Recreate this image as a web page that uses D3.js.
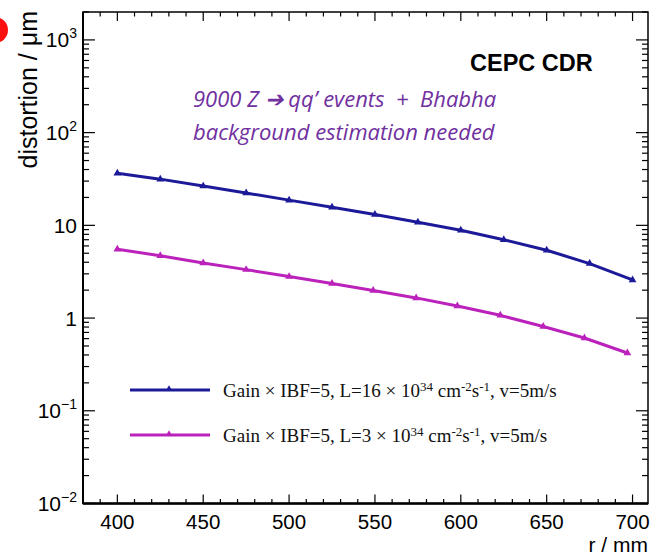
<!DOCTYPE html>
<html>
<head>
<meta charset="utf-8">
<script src="https://cdn.jsdelivr.net/npm/d3@7"></script>
<style>
  html, body { margin: 0; padding: 0; background: #fff; }
  svg { display: block; }
</style>
</head>
<body>
<svg id="chart" width="650" height="556"></svg>
<script>
// Radial position r (mm) of each sample point
const rHigh = [400, 425, 450, 475, 500, 525, 550, 575, 600, 625, 650, 675, 700];
const rLow  = [400, 425, 450, 475, 500, 525, 549, 574, 598, 623, 648, 672, 697];

// Distortion (um) for the two luminosity scenarios
const distHigh = [36.5, 31.5, 26.5, 22.3, 18.7, 15.7, 13.1, 10.8, 8.84, 7.0, 5.39, 3.87, 2.58];
const distLow  = [5.52, 4.71, 3.93, 3.33, 2.80, 2.36, 1.98, 1.65, 1.35, 1.07, 0.81, 0.61, 0.42];

const xTicks = [400, 450, 500, 550, 600, 650, 700];
const yTicks = [0.01, 0.1, 1, 10, 100, 1000];
const yTickLabels = [["10", "\u22122"], ["10", "\u22121"], ["1", null], ["10", null], ["10", "2"], ["10", "3"]];

const seriesNames = ["high", "low"];
const seriesColors = ["#1c1a98", "#bb22bb"];

const svg = d3.select("#chart");
const pL = 83, pR = 648, pT = 12, pB = 503.5;

const x = d3.scaleLinear().domain([380, 709]).range([pL, pR]);
const y = d3.scaleLog().domain([0.01, 2000]).range([pB, pT]);

// red marker at the upper-left corner
svg.append("circle").attr("cx", -5).attr("cy", 30).attr("r", 13).attr("fill", "#ff1010");

// frame
svg.append("rect")
  .attr("x", pL).attr("y", pT)
  .attr("width", pR - pL).attr("height", pB - pT)
  .attr("fill", "none").attr("stroke", "#000").attr("stroke-width", 1.5);
svg.append("line").attr("x1", pL).attr("x2", pR).attr("y1", pB).attr("y2", pB)
  .attr("stroke", "#000").attr("stroke-width", 2.5);
svg.append("line").attr("x1", pL).attr("x2", pL).attr("y1", pT).attr("y2", pB)
  .attr("stroke", "#000").attr("stroke-width", 2);

const tickG = svg.append("g").attr("stroke", "#000").attr("stroke-width", 1.2);

// x ticks: major every 50, minor every 10, bottom and top
d3.range(380, 709, 10).forEach(v => {
  const major = v % 50 === 0;
  const len = major ? 9 : 4.5;
  const px = x(v);
  tickG.append("line").attr("x1", px).attr("x2", px).attr("y1", pB).attr("y2", pB - len);
  tickG.append("line").attr("x1", px).attr("x2", px).attr("y1", pT).attr("y2", pT + len);
});

// y ticks: decades major, 2..9 minor, left and right
[0.01, 0.1, 1, 10, 100, 1000].forEach(dec => {
  for (let m = 1; m <= 9; m++) {
    const v = dec * m;
    if (v > 2000) continue;
    const len = m === 1 ? 12 : 6;
    const py = y(v);
    tickG.append("line").attr("x1", pL).attr("x2", pL + len).attr("y1", py).attr("y2", py);
    tickG.append("line").attr("x1", pR).attr("x2", pR - len).attr("y1", py).attr("y2", py);
  }
});

const sans = "'Liberation Sans', Arial, Helvetica, sans-serif";

// x tick labels
svg.append("g").selectAll("text").data(xTicks).join("text")
  .attr("x", d => x(d)).attr("y", 529)
  .attr("text-anchor", "middle")
  .attr("font-family", sans).attr("font-size", 20.5)
  .text(d => d);

// y tick labels
yTicks.forEach((v, i) => {
  const [base, exp] = yTickLabels[i];
  const t = svg.append("text")
    .attr("x", 77).attr("y", y(v) + 7.5)
    .attr("text-anchor", "end")
    .attr("font-family", sans).attr("font-size", 21);
  t.append("tspan").text(base);
  if (exp) t.append("tspan").attr("dy", -9).attr("font-size", 14).text(exp);
});

// axis titles
svg.append("text")
  .attr("x", 648).attr("y", 552).attr("text-anchor", "end")
  .attr("font-family", sans).attr("font-size", 21)
  .text("r / mm");
svg.append("text")
  .attr("transform", "translate(37,11) rotate(-90)")
  .attr("text-anchor", "end")
  .attr("font-family", sans).attr("font-size", 25)
  .text("distortion / \u03bcm");

// data series
const series = [
  { r: rHigh, d: distHigh },
  { r: rLow, d: distLow }
];
const lineGen = d3.line().x(p => x(p[0])).y(p => y(p[1]));
const tri = d3.symbol().type(d3.symbolTriangle).size(26);

series.forEach((s, i) => {
  const pts = s.r.map((r, k) => [r, s.d[k]]);
  const g = svg.append("g").attr("class", "series-" + seriesNames[i]);
  g.append("path").datum(pts)
    .attr("d", lineGen)
    .attr("fill", "none").attr("stroke", seriesColors[i])
    .attr("stroke-width", 3).attr("stroke-linejoin", "round");
  g.selectAll("path.mk").data(pts).join("path")
    .attr("class", "mk")
    .attr("d", tri)
    .attr("transform", p => `translate(${x(p[0])},${y(p[1])})`)
    .attr("fill", seriesColors[i]);
});

// legend
const legendRows = [
  { lum: "16", yPos: 390 },
  { lum: "3", yPos: 435 }
];
const serif = "'Liberation Serif', 'Times New Roman', serif";
legendRows.forEach((row, i) => {
  const g = svg.append("g");
  g.append("line").attr("x1", 130).attr("x2", 210).attr("y1", row.yPos).attr("y2", row.yPos)
    .attr("stroke", seriesColors[i]).attr("stroke-width", 3);
  g.append("path").attr("d", d3.symbol().type(d3.symbolTriangle).size(18))
    .attr("transform", `translate(169,${row.yPos - 1})`).attr("fill", seriesColors[i]);
  const t = g.append("text").attr("x", 223).attr("y", row.yPos + 7)
    .attr("font-family", serif).attr("font-size", 19).attr("fill", "#111")
    .attr("xml:space", "preserve");
  t.append("tspan").text(`Gain \u00d7 IBF=5, L=${row.lum} \u00d7 10`);
  t.append("tspan").attr("dy", -6).attr("font-size", 13).text("34");
  t.append("tspan").attr("dy", 6).text(" cm");
  t.append("tspan").attr("dy", -6).attr("font-size", 13).text("-2");
  t.append("tspan").attr("dy", 6).text("s");
  t.append("tspan").attr("dy", -6).attr("font-size", 13).text("-1");
  t.append("tspan").attr("dy", 6).text(", v=5m/s");
});

// experiment tag
svg.append("text")
  .attr("x", 470).attr("y", 71)
  .attr("font-family", sans).attr("font-weight", "bold").attr("font-size", 23.5)
  .text("CEPC CDR");

// annotation
const note = svg.append("g")
  .attr("font-family", "'Open Sans', Lato, sans-serif").attr("font-style", "italic")
  .attr("font-size", 22).attr("fill", "#7030a0");
note.append("text").attr("x", 193).attr("y", 107).attr("xml:space", "preserve")
  .text("9000 Z \u2794 qq\u2019 events  +  Bhabha");
note.append("text").attr("x", 193).attr("y", 140).text("background estimation needed");
</script>
</body>
</html>
